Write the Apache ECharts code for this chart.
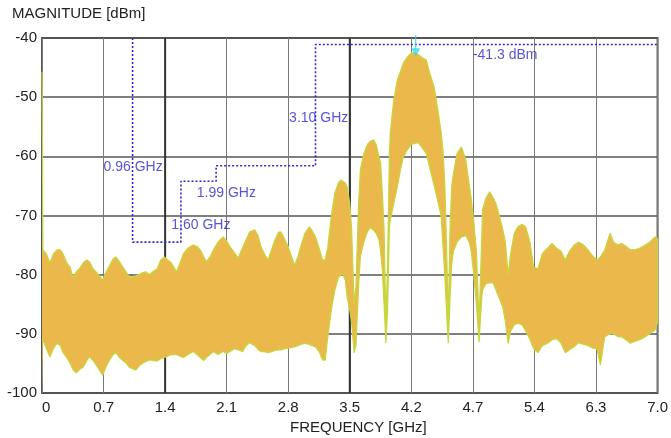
<!DOCTYPE html>
<html>
<head>
<meta charset="utf-8">
<script src="https://cdn.jsdelivr.net/npm/echarts@6/dist/echarts.min.js"></script>
<style>
html,body{margin:0;padding:0;background:#fff;}
#chart{width:671px;height:438px;}
</style>
</head>
<body>
<div id="chart"></div>
<script>
// ---- data ----
const xTickLabels = ['0','0.7','1.4','2.1','2.8','3.5','4.2','4.7','5.4','6.3','7.0'];
const yTicks = [-100,-90,-80,-70,-60,-50,-40];
const majorGridFreq = [1.4, 3.5];

// spectrum envelope (GHz, dBm)
const freq = [0.00,0.01,0.05,0.09,0.13,0.17,0.21,0.24,0.28,0.32,0.35,0.39,0.43,0.47,0.51,0.54,0.58,0.63,0.69,0.73,0.77,0.81,0.84,0.88,0.92,0.96,0.99,1.04,1.07,1.10,1.14,1.18,1.22,1.26,1.31,1.35,1.39,1.43,1.47,1.53,1.57,1.61,1.66,1.72,1.76,1.80,1.84,1.87,1.91,1.95,2.00,2.06,2.10,2.14,2.19,2.23,2.28,2.32,2.36,2.42,2.46,2.49,2.53,2.57,2.61,2.65,2.69,2.72,2.76,2.80,2.84,2.87,2.91,2.94,2.99,3.04,3.07,3.11,3.15,3.19,3.22,3.25,3.29,3.33,3.37,3.40,3.42,3.45,3.47,3.50,3.52,3.55,3.57,3.60,3.62,3.66,3.70,3.73,3.77,3.80,3.83,3.85,3.87,3.89,3.91,3.93,3.95,3.96,4.00,4.04,4.08,4.11,4.15,4.20,4.24,4.28,4.32,4.37,4.41,4.46,4.50,4.54,4.56,4.58,4.60,4.62,4.64,4.66,4.68,4.72,4.77,4.82,4.86,4.88,4.91,4.94,4.97,5.00,5.01,5.05,5.09,5.13,5.16,5.20,5.24,5.27,5.30,5.33,5.37,5.41,5.46,5.50,5.55,5.59,5.64,5.69,5.75,5.80,5.85,5.90,5.95,6.00,6.05,6.10,6.16,6.21,6.26,6.31,6.35,6.40,6.46,6.50,6.55,6.59,6.64,6.69,6.74,6.80,6.86,6.91,6.97,7.00];
const upper = [-45.7,-75.8,-76.5,-78,-76.5,-75.8,-75.8,-76.5,-78,-78.7,-80.4,-79.5,-78.9,-78,-77.5,-77.8,-79,-79.8,-80.9,-79.5,-78.4,-77.3,-77,-77.8,-78.7,-79.6,-80.4,-80.3,-80.2,-80,-79.7,-79.5,-80,-79.5,-79,-77.5,-77,-77.5,-78,-79.5,-78,-76.4,-75.5,-75,-75.2,-75.8,-77,-77.8,-77,-75.8,-74.5,-73.6,-74.3,-75.3,-76.3,-77.2,-75.5,-74.1,-72.8,-72.4,-73.5,-75.3,-76.5,-77.5,-75.8,-74.1,-72.8,-72.8,-74,-75.3,-77,-78.4,-77,-75.3,-73,-71.9,-72.5,-73.6,-75.5,-77.5,-77.5,-75.3,-70,-66.2,-64.5,-64,-64,-64.5,-65.2,-68,-72,-85,-82,-68,-62.3,-59.5,-58,-57.5,-57.2,-58,-60,-61,-66,-72.4,-88,-78,-60,-56,-50.5,-47.1,-45.5,-44.2,-43.3,-42.5,-42.5,-42.8,-43.3,-43.7,-46,-48.3,-52,-56,-59,-64.5,-75,-88,-72,-64.8,-62.8,-59.5,-58.4,-60.6,-65,-67,-71,-76,-88,-74,-69,-67,-66,-67,-67.9,-70,-72.4,-74.5,-80,-76.4,-73,-71.9,-71.5,-71.9,-74.5,-78.7,-79,-76.4,-75.5,-74.7,-75.5,-76,-77.5,-76,-75,-74.5,-75,-75.8,-76.8,-77.5,-77,-75.8,-73,-74.5,-75,-74.7,-75.2,-75.8,-75.8,-75.5,-75,-74.5,-73.6,-74];
const lower = [-91,-91,-92.5,-93.9,-92.5,-91.6,-92,-93.2,-94,-95,-96,-96.6,-96,-95.6,-94.5,-93.9,-94.5,-95.6,-97,-95.5,-94.4,-93.5,-93.2,-94,-94.5,-95,-95.6,-96,-96.1,-95.5,-95,-94.7,-94.4,-94.5,-94.6,-94.2,-94,-93.8,-93.5,-93.5,-93.8,-94,-93.5,-93,-93.5,-94,-94.5,-94,-93.5,-93,-93.5,-93,-93.3,-93,-92.5,-92.7,-93,-92,-91.5,-92,-92.7,-93,-93,-93.2,-93,-92.8,-92.7,-92.7,-92.5,-92.4,-92.3,-92.2,-92,-91.8,-91.6,-91.8,-92,-92.2,-93,-94.4,-94.5,-90.5,-86,-82.6,-80.5,-79.8,-79.8,-81,-83.8,-86,-88,-93.2,-92,-82,-77,-74.5,-72.8,-72,-72.5,-73,-74,-76,-79.2,-85,-91.6,-86,-72,-70.8,-68,-65.2,-62,-60.1,-59,-58,-57.8,-57.7,-58.5,-59.5,-62,-65,-67.5,-70.2,-75.3,-80,-86,-91.6,-84,-78,-76,-74.5,-73.6,-73.4,-74.6,-76,-80,-85,-91.4,-84,-82.6,-81.5,-81.4,-81.4,-82.5,-84,-85.5,-88,-91.6,-89.5,-88.5,-88.2,-88.5,-89.5,-91,-92.5,-93.2,-92,-91.6,-91,-90.8,-91.5,-93.2,-92.7,-92.2,-91.5,-91.8,-92,-92.4,-92.5,-95.3,-90.5,-90,-90,-90.5,-90.5,-91,-91.6,-91.3,-91,-90.5,-90,-89.4,-88];

// dotted marker step line (GHz, dBm)
const stepFreq  = [1.03, 1.03, 1.58, 1.58, 1.98, 1.98, 3.11, 3.11, 7.0];
const stepLevel = [-40, -74.5, -74.5, -64.2, -64.2, -61.6, -61.6, -41.1, -41.1];

// peak marker
const peakFreq = 4.25;
const peakLevel = -41.3;

// annotation texts
const annotTexts = ['0.96 GHz', '1.60 GHz', '1.99 GHz', '3.10 GHz', '-41.3 dBm'];

// ---- chart ----
const chart = echarts.init(document.getElementById('chart'), null, {renderer: 'canvas'});
const FONT = 'Liberation Sans, Arial, sans-serif';
const BLUE = '#3028cc';
const FILL = '#EBB94B';
const EDGE = '#C4D83C';

const annotPos = [[0.70, -61.8], [1.47, -71.6], [1.76, -66.2], [2.81, -53.5], [4.90, -42.9]];

// closed band outline: along the upper envelope, then back along the lower one
const bandData = freq.map((f, i) => [f, upper[i]])
  .concat(freq.map((f, i) => [f, lower[i]]).reverse());

const majorLines = majorGridFreq.map(f => ({
  type: 'line', z: 1, symbol: 'none', silent: true,
  data: [[f, yTicks[0]], [f, yTicks[yTicks.length - 1]]],
  lineStyle: {color: '#333', width: 2}
}));

chart.setOption({
  animation: false,
  backgroundColor: '#ffffff',
  grid: {left: 42, right: 8, top: 38, bottom: 45, show: true, borderColor: '#555', borderWidth: 2, backgroundColor: 'transparent'},
  graphic: [
    {type: 'text', left: 12, top: 6, style: {text: 'MAGNITUDE [dBm]', font: '15px ' + FONT, fill: '#222'}},
    {type: 'text', left: 290, top: 420, style: {text: 'FREQUENCY [GHz]', font: '15px ' + FONT, fill: '#222'}}
  ],
  xAxis: {
    type: 'value', min: 0, max: 7, interval: 0.7,
    axisLine: {show: false}, axisTick: {show: false},
    axisLabel: {
      fontFamily: FONT, fontSize: 15, color: '#222', margin: 7, alignMinLabel: 'left',
      formatter: v => xTickLabels[Math.round(v / 0.7)]
    },
    splitLine: {show: true, lineStyle: {color: '#7a7a7a', width: 1}}
  },
  yAxis: {
    type: 'value', min: yTicks[0], max: yTicks[yTicks.length - 1], interval: 10,
    axisLine: {show: false}, axisTick: {show: false},
    axisLabel: {fontFamily: FONT, fontSize: 15, color: '#222', margin: 5},
    splitLine: {show: true, lineStyle: {color: '#555', width: 1.5}}
  },
  series: majorLines.concat([
    {
      name: 'spectrum', type: 'line', z: 3,
      symbol: 'none', silent: true,
      data: bandData,
      lineStyle: {color: EDGE, width: 1.2},
      areaStyle: {color: FILL, opacity: 1, origin: 'start'}
    },
    {
      type: 'line', z: 5, symbol: 'none', silent: true,
      data: stepFreq.map((f, i) => [f, stepLevel[i]]),
      lineStyle: {color: BLUE, width: 1.6, type: [2, 2]}
    },
    {
      type: 'line', z: 6, symbol: 'none', silent: true, clip: false,
      data: [[peakFreq, peakLevel - 0.7], [peakFreq, -39.5]],
      lineStyle: {color: '#35d6ee', width: 1}
    },
    {
      type: 'scatter', z: 7, silent: true,
      data: [[peakFreq, peakLevel - 1.1]],
      symbol: 'triangle', symbolRotate: 180, symbolSize: [9, 8],
      itemStyle: {color: '#35d6ee'}
    },
    {
      type: 'scatter', z: 8, silent: true, symbolSize: 0,
      data: annotPos.map((p, i) => ({value: p, name: annotTexts[i]})),
      label: {
        show: true, position: 'right', distance: 0, formatter: p => p.name,
        fontFamily: FONT, fontSize: 14, color: BLUE
      }
    }
  ])
});
</script>
</body>
</html>
